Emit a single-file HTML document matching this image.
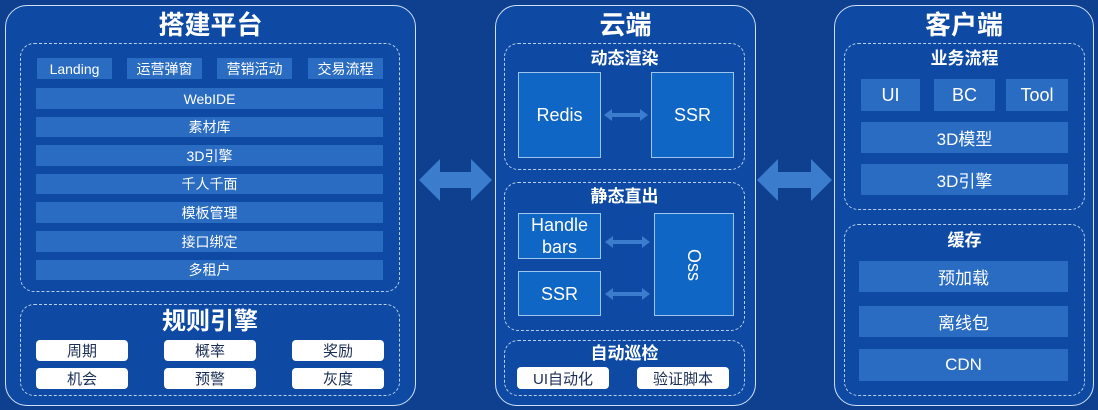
<!DOCTYPE html>
<html><head><meta charset="utf-8"><style>
*{margin:0;padding:0;box-sizing:border-box}
body{width:1098px;height:410px;background:#0f3f8f;position:relative;overflow:hidden;font-family:"Liberation Sans","Noto Sans CJK SC",sans-serif;color:#fff}
div{position:absolute}
.panel{border:1.5px solid #cfe0f5;border-radius:22px;background:#0e4aa3}
.dash{border:1.5px dashed #b8d0ee;border-radius:14px}
.bar{background:#2a6cc2;display:flex;align-items:center;justify-content:center;font-size:14px}
.box{background:#1066c4;border:1.5px solid #9fc4ee;display:flex;align-items:center;justify-content:center;font-size:18px;text-align:center;line-height:22px}
.btn{background:#fff;color:#1a2e55;border-radius:4px;display:flex;align-items:center;justify-content:center;font-size:15px}
.t{text-align:center;font-weight:bold;line-height:1}
</style></head><body>
<svg width="1098" height="410" style="position:absolute;left:0;top:0">
<polygon fill="#3b7ccc" points="419,180 440,159 440,172 471,172 471,159 492,180 471,201 471,188 440,188 440,201"/>
<polygon fill="#3b7ccc" points="757,180 778,159 778,172 811,172 811,159 832,180 811,201 811,188 778,188 778,201"/>
</svg>
<div class="panel" style="left:5px;top:5px;width:411px;height:401px"></div>
<div class="t" style="left:5px;top:12px;width:411px;font-size:26px">搭建平台</div>
<div class="dash" style="left:20px;top:43px;width:380px;height:249px"></div>
<div class="bar" style="left:37px;top:58px;width:75px;height:21px">Landing</div>
<div class="bar" style="left:127px;top:58px;width:75px;height:21px">运营弹窗</div>
<div class="bar" style="left:217px;top:58px;width:75px;height:21px">营销活动</div>
<div class="bar" style="left:308px;top:58px;width:75px;height:21px">交易流程</div>
<div class="bar" style="left:36px;top:88px;width:347px;height:21px">WebIDE</div>
<div class="bar" style="left:36px;top:117px;width:347px;height:20px">素材库</div>
<div class="bar" style="left:36px;top:145px;width:347px;height:21px">3D引擎</div>
<div class="bar" style="left:36px;top:174px;width:347px;height:20px">千人千面</div>
<div class="bar" style="left:36px;top:202px;width:347px;height:21px">模板管理</div>
<div class="bar" style="left:36px;top:231px;width:347px;height:21px">接口绑定</div>
<div class="bar" style="left:36px;top:260px;width:347px;height:20px">多租户</div>
<div class="dash" style="left:20px;top:304px;width:380px;height:92px"></div>
<div class="t" style="left:20px;top:310px;width:380px;font-size:24px">规则引擎</div>
<div class="btn" style="left:36px;top:340px;width:92px;height:21px">周期</div>
<div class="btn" style="left:164px;top:340px;width:92px;height:21px">概率</div>
<div class="btn" style="left:292px;top:340px;width:92px;height:21px">奖励</div>
<div class="btn" style="left:36px;top:368px;width:92px;height:21px">机会</div>
<div class="btn" style="left:164px;top:368px;width:92px;height:21px">预警</div>
<div class="btn" style="left:292px;top:368px;width:92px;height:21px">灰度</div>
<div class="panel" style="left:495px;top:5px;width:261px;height:401px"></div>
<div class="t" style="left:495px;top:12px;width:261px;font-size:26px">云端</div>
<div class="dash" style="left:504px;top:43px;width:241px;height:127px"></div>
<div class="t" style="left:504px;top:50px;width:241px;font-size:17px">动态渲染</div>
<div class="box" style="left:518px;top:72px;width:83px;height:86px">Redis</div>
<div class="box" style="left:651px;top:72px;width:83px;height:86px">SSR</div>
<div class="dash" style="left:504px;top:182px;width:241px;height:149px"></div>
<div class="t" style="left:504px;top:188px;width:241px;font-size:17px">静态直出</div>
<div class="box" style="left:518px;top:213px;width:83px;height:46px">Handle<br>bars</div>
<div class="box" style="left:518px;top:271px;width:83px;height:45px">SSR</div>
<div class="box" style="left:654px;top:213px;width:80px;height:103px"><span style="display:inline-block;transform:rotate(90deg)">Oss</span></div>
<svg width="1098" height="410" style="position:absolute;left:0;top:0">
<polygon fill="#3b7ccc" points="604,115 612,109 612,113 640,113 640,109 648,115 640,121 640,117 612,117 612,121"/>
<polygon fill="#3b7ccc" points="605,242 613,236 613,240 642,240 642,236 650,242 642,248 642,244 613,244 613,248"/>
<polygon fill="#3b7ccc" points="605,294 613,288 613,292 642,292 642,288 650,294 642,300 642,296 613,296 613,300"/>
</svg>
<div class="dash" style="left:504px;top:340px;width:241px;height:56px"></div>
<div class="t" style="left:504px;top:345px;width:241px;font-size:17px">自动巡检</div>
<div class="btn" style="left:517px;top:367px;width:92px;height:22px">UI自动化</div>
<div class="btn" style="left:637px;top:367px;width:92px;height:22px">验证脚本</div>
<div class="panel" style="left:834px;top:5px;width:260px;height:401px"></div>
<div class="t" style="left:834px;top:12px;width:260px;font-size:26px">客户端</div>
<div class="dash" style="left:844px;top:43px;width:241px;height:167px"></div>
<div class="t" style="left:844px;top:50px;width:241px;font-size:17px">业务流程</div>
<div class="bar" style="left:861px;top:79px;width:59px;height:32px;font-size:18px">UI</div>
<div class="bar" style="left:934px;top:79px;width:61px;height:32px;font-size:18px">BC</div>
<div class="bar" style="left:1006px;top:79px;width:62px;height:32px;font-size:18px">Tool</div>
<div class="bar" style="left:861px;top:122px;width:207px;height:31px;font-size:17px">3D模型</div>
<div class="bar" style="left:861px;top:164px;width:207px;height:31px;font-size:17px">3D引擎</div>
<div class="dash" style="left:844px;top:224px;width:241px;height:172px"></div>
<div class="t" style="left:844px;top:232px;width:241px;font-size:17px">缓存</div>
<div class="bar" style="left:859px;top:261px;width:209px;height:31px;font-size:17px">预加载</div>
<div class="bar" style="left:859px;top:306px;width:209px;height:31px;font-size:17px">离线包</div>
<div class="bar" style="left:859px;top:349px;width:209px;height:32px;font-size:17px">CDN</div>
</body></html>
